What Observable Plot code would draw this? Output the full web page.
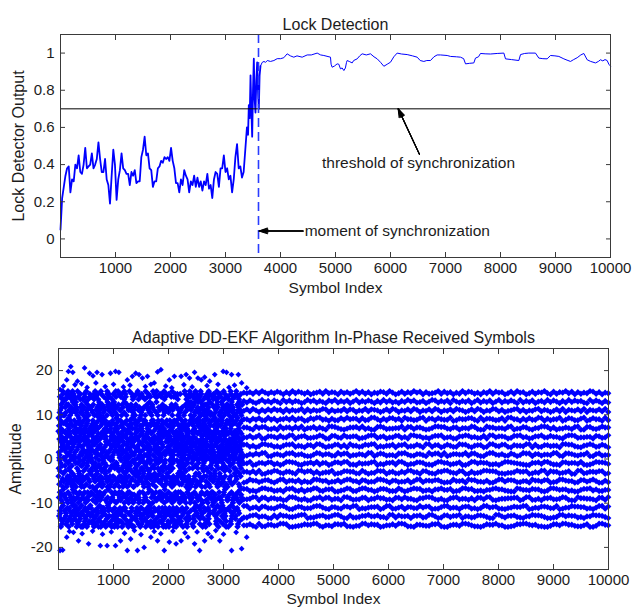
<!DOCTYPE html>
<html>
<head>
<meta charset="utf-8">
<script src="https://cdn.jsdelivr.net/npm/d3@7"></script>
<script src="https://cdn.jsdelivr.net/npm/@observablehq/plot@0.6"></script>
<style>
  body { margin: 0; background: #fff; }
  #chart { width: 634px; height: 612px; background: #fff; }
  #chart svg { display: block; }
</style>
</head>
<body>
<div id="chart"></div>
<script>
// ---------------- Lock detection (top panel) ----------------
const lockPreX = [0,30,60,90,120,150,180,210,240,270,300,330,360,390,420,450,480,510,540,570,600,630,660,690,720,750,780,810,840,870,900,930,960,990,1020,1050,1080,1110,1140,1170,1200,1230,1260,1290,1320,1350,1380,1410,1440,1470,1500,1530,1560,1590,1620,1650,1680,1710,1740,1770,1800,1830,1860,1890,1920,1950,1980,2010,2040,2070,2100,2130,2160,2190,2220,2250,2280,2310,2340,2370,2400,2430,2460,2490,2520,2550,2580,2610,2640,2670,2700,2730,2760,2790,2820,2850,2880,2910,2940,2970,3000,3030,3060,3090,3120,3150,3180,3210,3240,3270,3300,3330,3360,3390];
const lockPreY = [0.05,0.22,0.28,0.34,0.38,0.39,0.25,0.32,0.31,0.40,0.38,0.45,0.36,0.35,0.40,0.49,0.38,0.39,0.40,0.46,0.38,0.40,0.43,0.52,0.43,0.36,0.36,0.43,0.32,0.29,0.19,0.34,0.48,0.40,0.21,0.32,0.37,0.46,0.38,0.37,0.35,0.35,0.29,0.36,0.34,0.37,0.30,0.31,0.31,0.44,0.48,0.55,0.45,0.46,0.38,0.37,0.28,0.31,0.31,0.38,0.39,0.42,0.41,0.44,0.43,0.44,0.42,0.49,0.42,0.38,0.30,0.30,0.25,0.32,0.29,0.37,0.34,0.32,0.25,0.31,0.29,0.34,0.28,0.33,0.28,0.31,0.26,0.31,0.29,0.35,0.27,0.29,0.22,0.32,0.36,0.35,0.28,0.38,0.38,0.45,0.36,0.38,0.32,0.34,0.25,0.32,0.44,0.51,0.38,0.39,0.33,0.36,0.48,0.60];
const lockPostX = [3410,3424,3440,3455,3470,3485,3500,3515,3530,3545,3560,3576,3590,3606,3620,3636,3667,3700,3727,3760,3818,3880,3940,4000,4060,4121,4180,4242,4300,4394,4485,4560,4667,4730,4788,4909,4920,4939,4980,5030,5060,5091,5120,5152,5180,5200,5212,5250,5303,5330,5394,5440,5485,5560,5636,5700,5758,5820,5879,5940,6000,6060,6121,6200,6303,6400,6485,6540,6606,6660,6727,6790,6848,6909,7030,7091,7200,7273,7330,7364,7440,7515,7545,7600,7636,7720,7818,7940,8061,8091,8200,8333,8364,8440,8515,8636,8697,8770,8848,8909,8990,9061,9152,9210,9273,9330,9394,9460,9515,9576,9640,9727,9780,9818,9860,9900,9939,9970,10000];
const lockPostY = [0.56,0.72,0.65,0.88,0.70,0.55,0.80,0.97,0.75,0.68,0.85,0.95,0.80,0.70,0.88,0.93,0.95,0.955,0.95,0.96,0.955,0.96,0.97,0.97,0.975,0.996,0.985,0.978,0.985,0.978,0.99,0.99,1.0,0.99,0.987,0.978,0.94,0.924,0.93,0.942,0.94,0.915,0.92,0.906,0.92,0.95,0.96,0.955,0.947,0.96,0.969,0.985,0.996,0.99,0.996,0.98,0.969,0.95,0.929,0.94,0.951,0.98,1.0,0.995,0.992,0.985,0.978,0.96,0.955,0.96,0.96,0.98,0.99,0.99,0.987,0.982,0.98,0.978,0.97,0.942,0.945,0.947,0.973,0.98,0.998,0.996,0.995,0.998,1.0,0.969,0.965,0.96,0.992,0.998,1.0,1.0,0.973,0.97,0.969,0.987,0.985,0.982,0.969,0.962,0.955,0.965,0.975,0.99,0.998,0.964,0.955,0.947,0.955,0.964,0.958,0.965,0.96,0.94,0.93];
const lockSettledFrom = 3636;

const symbolTicks = [1000,2000,3000,4000,5000,6000,7000,8000,9000,10000];
const lockTicks = [0,0.2,0.4,0.6,0.8,1];
const ampTicks = [-20,-10,0,10,20];
const threshold = 0.7;
const syncIndex = 3600;

const arrowX1 = [4410, 6527];
const arrowY1 = [0.043, 0.455];
const arrowX2 = [3612, 6140];
const arrowY2 = [0.043, 0.70];
const momentNote = {text: "moment of synchronization", x: 4440, y: 0.043};
const thresholdNote = {text: "threshold of synchronization", x: 6509, y: 0.41};

// ---------------- In-phase received symbols (bottom panel) ----------------
// Before synchronization: one letter per received symbol (symbol index 0 … 3340),
// amplitude = -15.3 + 0.6 * position of the letter in preCodes.
const preCodes = "ABCDEFGHIJKLMNOPQRSTUVWXYZabcdefghijklmnopqrstuvwxyz";
const preSyncRows = [
"kTpWcLmEaQhZrGbNxVjFsDoYgAuHlKeRinMqBtXdCwJfSzPyIOvkUqhaRnDgMwe",
"GhqMdXaLtZkVnErBwFjcSyPoKuQgHeiCmTxJbzNfuYeRk",
"ApWlDsHxTcGjMbqZoViLnEgSyQdKtCwJrXaFhBmPzUvOIekRfLyGsNhZbQoDxTmKwcIujEaSgYrNvPlFiHtAnCk",
"WdsLqGzRhBeYkMxJaVnTpCfUiEoHgNbSlZwDyKrQtFjAmXcPuIeFnXbRkThLwAsMcZdGqVjYoPtByEfNlCiSxKgHa",
"pJvDmWcGzQkErThAsYnLbXfuNiBoKdSwHqeZaFtMlCjVgRyPxUcIkEbeMtHxaNmFsZkVdWjCgYrPiKoBnTuEflMhSyAwGcXqD",
"OfTkRzYhBmWaJsExnLcGqVdPiUgNtKbHyFlSwCeXjAoMrZuDvQpIeXsNhCbKqTfWmAzjRyGdLoVtEiPuHnSaBcYkF",
"MdZrQpHxFaWkBtGjNeYsClUoVhKnAigTbSfXcEwDqmRzJyPvLkIuOaHtGsBncVyHgSnEkJxPafTdBmQrZlWiCuKtNhAeX",
"aRjLwGqEoZnbTfKyMhDsXcvPuiAkHgWtNleSrBdFzQmJxCYpYnDtBkEhXqSfAlWcGzMjRuoKiVbNePyCgTaLsHdF",
"sFoKxCmThZbReNqWjGyAuLdEkViPtSnBgXcfHlMwQrJzaYDvUiEnHyGcTxLaRkSdZqWoBfMjVuPhCtKeXgNbAmYsJlF",
"TkWaFzNdQhCoXsRgLmYetBjuEnViHcbGyKfSpAlMxDwZrJqPhUgPsAhMbYxeKnZtcWqjDoRlFuTiGyEmVkLdH",
"nChXkQeTzGaRyMsBwdLfJoUiKtYgNbVpFlAcEmSxHqDjZrWHlByRfWmEsZaNkTxCgJoQdUiVhPtYnFbKeGL",
"wMoDqXhLzAgSbKeRnYtCjFuWiHlTmGxBdPkZsEyNaQfVcJrUhOvIbeYkGrSxHmCtAnZdWjLqFoTgBhEuN",
"QtJbEzMgXoAkRnCsHyWdLfUiTmGhZeBxPaSlNcKrDvYzfKmShBxTeGqWnAdLoYcRjEtHiZbNgVkUsClFyM",
"dhRtNaWgExKmZbQoSjCyHfLuTkBeGnVsAqXiMlDzPcJwFrYOtSbZnHkExQtAgMjWcRyLoFdUhGsTeKmBiC",
"jTgBrNyFeAkWsHmZcXoQdLiVhEtKbSnGxCfYuRlMaPzJqDkWsEnYcHgTbRmAxLjZoFdQtBeKhSiCyNuGfM",
"FxAkMdSoHgZtBnEyCjRwLqTbUhNeGsXmKiYcDfQlJpVrGyBeNkTsWhCmZfLaXjQoEdHtSbKgUnAiYcRlFM",
"hWqaKeTnbGzrXcmSyoLuDiJfVkPeBwHtZgRlAsNxCdQmYjFuEvOiTkbMhSgaWnLzDxRcJoyfPqtGe",
"vKsdMQhfaYpeBknLtWxcRgjZmAoDiuEyHbSqNlTfJrCwGvXzPkeUoaMhIsbdQyLgFnRxEtjWcZmKv",
"LrpYewUgHcQonTkxBaDsfRjMzIvGlEqyKdhNbPtWiScFuAmJgZoXerVwnYkDlTcHaqBsfMjuPxG",
"ZmoAbgRdpKhTeqWuyNlfCskVxJiErHaMwtDzQjcGnBoLvFPySkemUhXrqdZaTgWfNjbLoYcKiIxu",
"eNqdRhwFmyJaLtGckSbZoUxVpiTfMrEjHsKnCgBlaXwQzDuYheIvPkFtmRgWoAcLbySjNdxqZeUrHi",
"CyhTmLaxGdQrKbvWnsJpEfoZkIuYeSgBjRtHcMzlNaDwXqFiVhPyOmTrdEbkGslAfCnQjWuZxoKtLe",
"uPgcKxrLjAwHtbZeqMfnSdYoVhGkRsXaCzlTyBemIuNpDvjEgQwFhoKcrtJaYbsLdMxZnWfHqiUekG",
"RbnWhxDkEqaTgMyzLocSjfVuHrKpAeNidBsGxmZtYlQwFvCaJhUekPgXnsOdTbryWcMqLjfZoKhDua"
];
const preStart = 0, preEnd = 3340;

// Sparse large-amplitude symbols before synchronization
const outlierX = [28,150,180,223,260,345,474,565,627,700,792,945,1037,1098,1251,1343,1404,1465,1526,1618,1740,1801,1862,2015,2107,2229,2321,2382,2474,2535,2596,2657,2749,2841,2994,3055,3147,3270,3330,3422,
  90,300,420,520,680,850,1000,1180,1300,1580,1680,1950,2060,2280,2430,2700,2900,3100,3200,
  28,77,150,272,364,547,761,884,1037,1128,1251,1312,1435,1557,1679,1801,1923,2015,2138,2229,2352,2474,2566,2657,2780,2933,3147,3330,3422,
  200,430,620,800,960,1200,1380,1500,1740,1860,2080,2300,2520,2720,2860,3000,3230];
const outlierY = [15.7,17.9,19.8,20.9,19.6,17.6,20.6,19.4,18.8,19.6,19.1,19.4,19.8,19.6,17.9,18.7,19.4,19.1,18.3,18.7,17.2,19.7,20.2,17.9,18.7,18.7,19.1,18.3,19.6,18.3,17.9,18.5,17.6,19.1,19.8,19.6,19.1,19.1,17.2,16.1,
  16.5,16.8,17.0,16.2,17.2,16.4,16.9,16.3,16.7,16.4,16.9,16.5,16.1,16.8,16.3,16.6,16.9,16.2,16.7,
  -20.7,-20.6,-17.7,-16.6,-18.5,-19.2,-19.6,-19.6,-19.6,-18.5,-20.7,-18.1,-20.7,-20.0,-17.7,-18.5,-20.7,-18.8,-19.2,-18.5,-17.7,-19.2,-20.7,-18.5,-17.7,-18.5,-20.7,-20.3,-17.7,
  -16.4,-16.9,-16.3,-17.0,-16.5,-16.8,-16.2,-17.1,-16.4,-16.9,-16.3,-16.7,-16.5,-16.9,-16.2,-17.0,-16.6];

// After synchronization: 16 amplitude levels; one digit per symbol = deviation (digit-4)*0.12
const levels = [15,13,11,9,7,5,3,1,-1,-3,-5,-7,-9,-11,-13,-15];
const bandJitter = [
"4352637425364152736425134627354163524736251436527413625374615234726351427365241537264513627451362547316254736152437625143",
"5263147352641736254137462531647253614725364152736241537462351476253617425361472536147253641725361452736415273645217364152",
"3627415263745162534716253476152437265143726541362751436275143627514362754136275143762513467251436725413627154362715436271",
"4415362273514463725512647734152263745516237741526635174423671552643371254466317255423617744152633761524471365225713644172",
"5531746622417355263714462531776421355637241167523344716625531247766325514437621175534426713365214477625133542671166324755",
"3362471155426337714562234751166327445512367724513366241775523146672341155763422617735541266734125573364421577623344165237",
"6624137755231466724315527741336625174423657713244615572336417725513642276631455127743662154437716225534417766321457523641",
"2253647711453266734521147635522746613354277146523316674225531746627135544726631157743522641376615524437721665324471156233",
"4471255366241377652144637255136647722153446713255627741336652214775523461137746552231477654321155637742216645537212476653",
"5536271144763255317746625134471236655227413376614522537744166321557743266115234776652213347556124377165523461177235546612",
"1375524663147725536142277645133625774416523377641552336147725546631227445176633251147736652244175536612377544126635741152",
"6623147755234166732514477325561134762257744136652227413576623415574461237756223144675532117644365521377645523114667352244",
"3347716625534127763241155736624417752336614475523166374421557763241156734425166377213445566137722415563347621175544316627",
"7724516633257741146523367742155326647713245561377224615533746612257734415662313774562213465577124366533712447665523147726",
"2256734411627553346771224563357741162235574463317726445155623774126635571442366531177425563214476653112377465523144766531",
"4463172255347761123465577314426657221337746551244637762215543366721145537764221365574411236677545221136647755322461137754"
];
const bandStart = 3370, bandEnd = 9995;

// ---------------- build tables ----------------
const lockData = lockPreX.map((x, i) => ({x, y: lockPreY[i]}))
  .concat(lockPostX.map((x, i) => ({x, y: lockPostY[i]})));
const arrows = arrowX1.map((x1, i) => ({x1, y1: arrowY1[i], x2: arrowX2[i], y2: arrowY2[i]}));

const preStr = preSyncRows.join("");
const preN = preStr.length;
const prePoints = Array.from(preStr, (ch, i) => ({
  x: preStart + i * (preEnd - preStart) / (preN - 1),
  y: -15.3 + 0.6 * preCodes.indexOf(ch)
}));
const outPoints = outlierX.map((x, i) => ({x, y: outlierY[i]}));
const bandPoints = [];
levels.forEach((lv, k) => {
  const s = bandJitter[k];
  for (let i = 0; i < s.length; i++) {
    bandPoints.push({x: bandStart + i * (bandEnd - bandStart) / (s.length - 1), y: lv + (+s[i] - 4) * 0.12});
  }
});

// ---------------- styling helpers ----------------
const font = "'Liberation Sans', Arial, Helvetica, sans-serif";
const ink = "#1c1c1c";
const axisInk = "#3a3a3a";
const blue = "#0000ff";
const fmt = d => String(d);

function boxAxes(xTicks, yTicks) {
  const none = () => "";
  return [
    Plot.axisX({ticks: xTicks, anchor: "bottom", tickSize: 5, dy: -5, tickFormat: none, label: null, stroke: axisInk}),
    Plot.axisX({ticks: xTicks, anchor: "top", tickSize: 5, dy: 5, tickFormat: none, label: null, stroke: axisInk}),
    Plot.axisY({ticks: yTicks, anchor: "left", tickSize: 5, dx: 5, tickFormat: none, label: null, stroke: axisInk}),
    Plot.axisY({ticks: yTicks, anchor: "right", tickSize: 5, dx: -5, tickFormat: none, label: null, stroke: axisInk}),
    Plot.axisX({ticks: xTicks, anchor: "bottom", tickSize: 0, tickPadding: 5, tickFormat: fmt, label: null, fill: ink, fontSize: 15}),
    Plot.axisY({ticks: yTicks, anchor: "left", tickSize: 0, tickPadding: 6, tickFormat: fmt, label: null, fill: ink, fontSize: 15}),
    Plot.frame({stroke: axisInk, strokeWidth: 1})
  ];
}
function label(text, opts) {
  return Plot.text([text], {text: d => d, fill: ink, fontSize: 15.5, textAnchor: "middle", ...opts});
}

const topChart = Plot.plot({
  width: 634, height: 310,
  marginLeft: 60, marginRight: 24, marginTop: 34, marginBottom: 53,
  style: {fontFamily: font, fontSize: "15px", background: "#fff", color: ink, overflow: "visible"},
  x: {domain: [0, 10000]},
  y: {domain: [-0.1, 1.1]},
  marks: [
    Plot.line(lockData, {filter: d => d.x <= lockSettledFrom, x: "x", y: "y", stroke: blue, strokeWidth: 1.8}),
    Plot.line(lockData, {filter: d => d.x >= lockSettledFrom, x: "x", y: "y", stroke: blue, strokeWidth: 1}),
    Plot.ruleY([threshold], {stroke: "#000", strokeWidth: 1}),
    Plot.ruleX([syncIndex], {stroke: "#2a3cff", strokeWidth: 1.6, strokeDasharray: "9,5"}),
    ...[8, 18, 28, 38].map(a => Plot.arrow(arrows, {x1: "x1", y1: "y1", x2: "x2", y2: "y2", stroke: "#000", strokeWidth: 1.1, headLength: 12, headAngle: a})),
    Plot.text([momentNote], {x: "x", y: "y", text: "text", textAnchor: "start", fill: ink, fontSize: 15.5}),
    Plot.text([thresholdNote], {x: "x", y: "y", text: "text", textAnchor: "middle", fill: ink, fontSize: 15.5}),
    ...boxAxes(symbolTicks, lockTicks),
    label("Lock Detection", {frameAnchor: "top", dy: -16, fontSize: 16}),
    label("Symbol Index", {frameAnchor: "bottom", dy: 35}),
    label("Lock Detector Output", {frameAnchor: "left", dx: -42, rotate: -90, fontSize: 16})
  ]
});

const bottomChart = Plot.plot({
  width: 634, height: 302,
  marginLeft: 58, marginRight: 26, marginTop: 38, marginBottom: 43,
  style: {fontFamily: font, fontSize: "15px", background: "#fff", color: ink, overflow: "visible"},
  x: {domain: [0, 10000]},
  y: {domain: [-25, 25]},
  marks: [
    Plot.dot(prePoints, {x: "x", y: "y", symbol: "diamond2", r: 2.95, fill: blue, stroke: "none"}),
    Plot.dot(outPoints, {x: "x", y: "y", symbol: "diamond2", r: 2.6, fill: blue, stroke: "none"}),
    Plot.dot(bandPoints, {x: "x", y: "y", symbol: "diamond2", r: 2.85, fill: blue, stroke: "none"}),
    ...boxAxes(symbolTicks, ampTicks),
    label("Adaptive DD-EKF Algorithm In-Phase Received Symbols", {frameAnchor: "top", dy: -17, fontSize: 16}),
    label("Symbol Index", {frameAnchor: "bottom", dy: 34}),
    label("Amplitude", {frameAnchor: "left", dx: -43, rotate: -90, fontSize: 16})
  ]
});

document.getElementById("chart").append(topChart, bottomChart);
</script>
</body>
</html>
